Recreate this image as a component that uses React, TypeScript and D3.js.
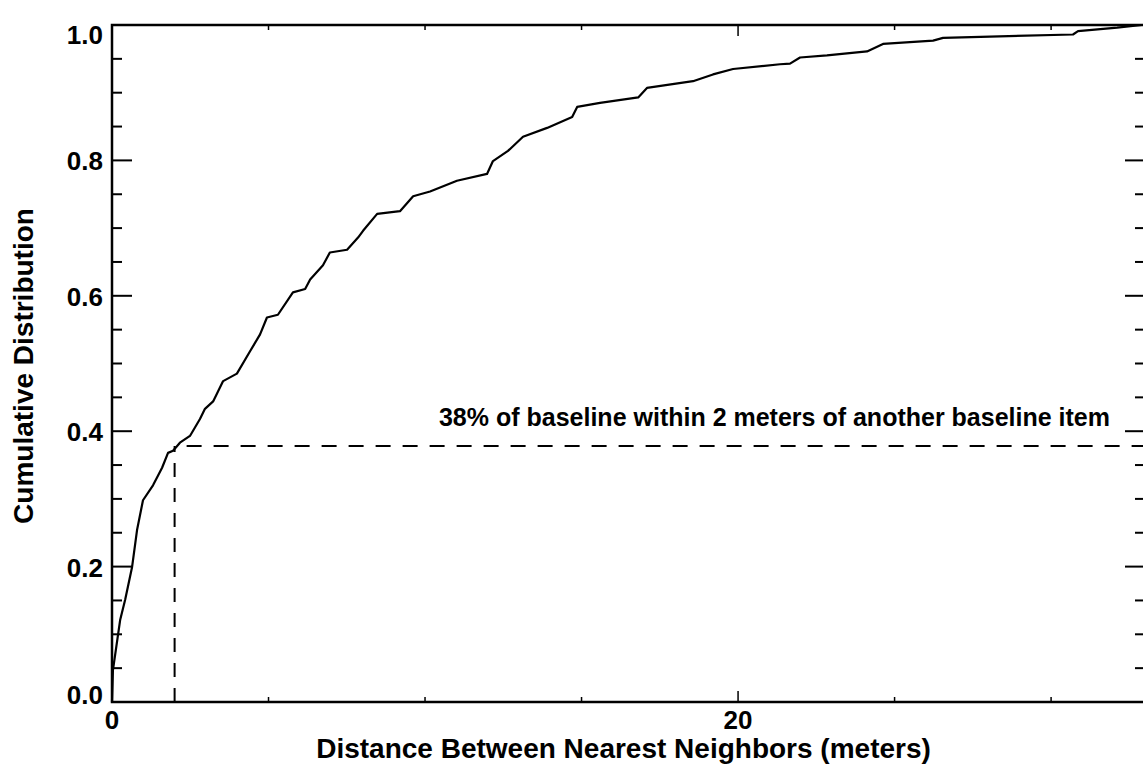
import React from 'react';
import * as d3 from 'd3';

// Nearest-neighbour distance (meters) and cumulative fraction
const distances = [
  0, 0.03, 0.26, 0.42, 0.64, 0.8, 0.99, 1.31, 1.6, 1.79, 1.95, 2.17, 2.49, 2.81, 2.97,
  3.23, 3.55, 3.99, 4.41, 4.73, 4.95, 5.3, 5.78, 6.17, 6.33, 6.74, 6.96, 7.51, 7.86,
  8.02, 8.47, 9.2, 9.62, 10.16, 11.02, 11.98, 12.17, 12.65, 13.13, 13.9, 14.7, 14.86,
  15.59, 16.81, 17.09, 18.56, 19.2, 19.84, 21.34, 21.66, 21.98, 22.84, 24.12, 24.63,
  26.23, 26.55, 30.7, 30.86, 32.11, 32.9,
];
const cumulative = [
  0, 0.047, 0.121, 0.151, 0.199, 0.254, 0.298, 0.32, 0.346, 0.368, 0.371, 0.383, 0.393,
  0.418, 0.433, 0.444, 0.474, 0.485, 0.518, 0.543, 0.568, 0.572, 0.605, 0.61, 0.624,
  0.645, 0.664, 0.668, 0.686, 0.696, 0.721, 0.725, 0.747, 0.754, 0.77, 0.78, 0.799,
  0.814, 0.835, 0.848, 0.864, 0.879, 0.885, 0.893, 0.907, 0.917, 0.927, 0.935, 0.942,
  0.943, 0.952, 0.955, 0.961, 0.972, 0.977, 0.981, 0.986, 0.991, 0.996, 1.0,
];

const yTickValues = [0, 0.2, 0.4, 0.6, 0.8, 1.0];
const yTickLabels = ['0.0', '0.2', '0.4', '0.6', '0.8', '1.0'];
const xTickValues = [0, 20];
const xTickLabels = ['0', '20'];
const xMinorValues = [5, 10, 15, 25, 30];

const xTitle = 'Distance Between Nearest Neighbors (meters)';
const yTitle = 'Cumulative Distribution';
const annotationText = '38% of baseline within 2 meters of another baseline item';
const thresholdDistance = 2;
const thresholdFraction = 0.378;

const W = 1143;
const H = 771;
const FONT = '"Liberation Sans", Arial, Helvetica, sans-serif';

export default function App() {
  const x = d3.scaleLinear().domain([0, 33]).range([112, 1145]);
  const y = d3.scaleLinear().domain([0, 1]).range([702, 25]);

  const pts: [number, number][] = distances.map((d, i) => [d, cumulative[i]]);
  const line = d3
    .line<[number, number]>()
    .x((d) => x(d[0]))
    .y((d) => y(d[1]))
    .curve(d3.curveLinear);

  const yMinor = d3.range(0, 21).map((i) => i * 0.05);
  const isMajorY = (v: number) => Math.abs(v / 0.2 - Math.round(v / 0.2)) < 1e-6;

  const x0 = x.range()[0];
  const x1 = x.range()[1];
  const y0 = y.range()[0];
  const y1 = y.range()[1];

  return (
    <svg
      width={W}
      height={H}
      style={{ position: 'absolute', left: 0, top: 0, background: '#fff' }}
      fontFamily={FONT}
    >
      <rect x={0} y={0} width={W} height={H} fill="#fff" />
      {/* frame */}
      <rect x={x0} y={y1} width={x1 - x0} height={y0 - y1} fill="none" stroke="#000" strokeWidth={2.5} />

      {/* y ticks left and right */}
      {yMinor.map((v, i) => {
        const major = isMajorY(v);
        const yy = y(v);
        return (
          <g key={'yt' + i}>
            <line x1={x0} x2={x0 + (major ? 20 : 10)} y1={yy} y2={yy} stroke="#000" strokeWidth={2} />
            <line x1={x1} x2={x1 - (major ? 20 : 10)} y1={yy} y2={yy} stroke="#000" strokeWidth={2} />
          </g>
        );
      })}

      {/* x ticks bottom and top */}
      {xMinorValues.map((v) => (
        <g key={'xm' + v}>
          <line x1={x(v)} x2={x(v)} y1={y0} y2={y0 - 5} stroke="#000" strokeWidth={1.5} />
          <line x1={x(v)} x2={x(v)} y1={y1} y2={y1 + 5} stroke="#000" strokeWidth={1.5} />
        </g>
      ))}
      {xTickValues.map((v) => (
        <g key={'xM' + v}>
          <line x1={x(v)} x2={x(v)} y1={y0} y2={y0 - 11} stroke="#000" strokeWidth={1.5} />
          <line x1={x(v)} x2={x(v)} y1={y1} y2={y1 + 11} stroke="#000" strokeWidth={1.5} />
        </g>
      ))}

      {/* y tick labels */}
      {yTickValues.map((v, i) => {
        const off = i === 0 ? 2 : i === yTickValues.length - 1 ? 19 : 10;
        return (
          <text key={'yl' + i} x={103} y={y(v) + off} textAnchor="end" fontSize={26} fontWeight="bold">
            {yTickLabels[i]}
          </text>
        );
      })}

      {/* x tick labels */}
      {xTickValues.map((v, i) => (
        <text key={'xl' + i} x={x(v)} y={729} textAnchor="middle" fontSize={26} fontWeight="bold">
          {xTickLabels[i]}
        </text>
      ))}

      {/* axis titles */}
      <text x={(x0 + x1) / 2 - 5} y={758} textAnchor="middle" fontSize={28} fontWeight="bold">
        {xTitle}
      </text>
      <text
        transform={`translate(33, 366) rotate(-90)`}
        textAnchor="middle"
        fontSize={28}
        fontWeight="bold"
      >
        {yTitle}
      </text>

      {/* threshold dashed lines */}
      <line
        x1={x(thresholdDistance)}
        x2={x(thresholdDistance)}
        y1={y(0)}
        y2={y(thresholdFraction)}
        stroke="#000"
        strokeWidth={2}
        strokeDasharray="14 11"
      />
      <line
        x1={x(thresholdDistance) + 12}
        x2={x1}
        y1={y(thresholdFraction)}
        y2={y(thresholdFraction)}
        stroke="#000"
        strokeWidth={2}
        strokeDasharray="15 12"
      />
      <text x={1110} y={426} textAnchor="end" fontSize={25} fontWeight="bold">
        {annotationText}
      </text>

      {/* CDF curve */}
      <path d={line(pts) || ''} fill="none" stroke="#000" strokeWidth={2.2} strokeLinejoin="round" />
    </svg>
  );
}
